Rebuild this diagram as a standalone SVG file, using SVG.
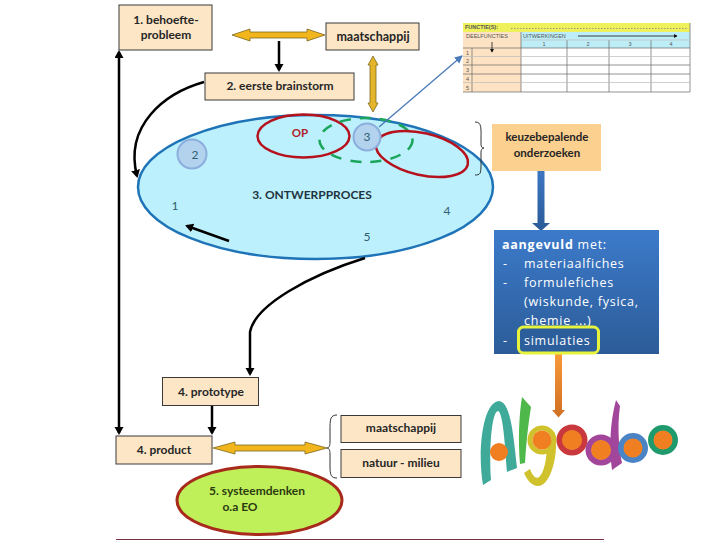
<svg xmlns="http://www.w3.org/2000/svg" width="720" height="540" viewBox="0 0 720 540">
<style>
text{font-family:"Lato","Open Sans","Liberation Sans",sans-serif;fill:#262626}
.b{font-weight:700;font-size:12px;text-anchor:middle}
.box{fill:#fde6c6;stroke:#3a3a3a;stroke-width:1}
.blk{fill:none;stroke:#000;stroke-width:2.500}
.gold{fill:#f2b51c;stroke:#7a6a20;stroke-width:.8}
.w{fill:#fff;font-family:"Open Sans","Lato",sans-serif;font-size:12.500px;letter-spacing:.75px}
.n{fill:#2f5f70;font-size:12px;text-anchor:middle}
.t{font-size:5.500px;fill:#555;font-family:"Liberation Sans",sans-serif}
.gr{stroke:#666;stroke-width:.7;fill:none}
.lt{stroke:#bbb;stroke-width:.7;fill:none}
.ring{fill:none;stroke-width:6}
.dot{fill:#f07f22}
</style>
<defs>
<marker id="ah" markerWidth="10" markerHeight="10" refX="6" refY="4.500" orient="auto" markerUnits="userSpaceOnUse"><path d="M0,0L8,4.500L0,9Z" fill="#000"/></marker>
<marker id="ahs" markerWidth="10" markerHeight="10" refX="6" refY="4.500" orient="auto-start-reverse" markerUnits="userSpaceOnUse"><path d="M0,0L8,4.500L0,9Z" fill="#000"/></marker>
<marker id="tiny" markerWidth="5" markerHeight="5" refX="3" refY="2" orient="auto" markerUnits="userSpaceOnUse"><path d="M0,0L3.500,2L0,4Z" fill="#111"/></marker>
<marker id="bl" markerWidth="10" markerHeight="10" refX="7" refY="4" orient="auto" markerUnits="userSpaceOnUse"><path d="M0,0L8,4L0,8Z" fill="#4a7ab8"/></marker>
<linearGradient id="bg" x1="0" y1="0" x2="0" y2="1"><stop offset="0" stop-color="#3c7aca"/><stop offset="1" stop-color="#2c5c98"/></linearGradient>
<linearGradient id="ar" x1="0" y1="0" x2="0" y2="1"><stop offset="0" stop-color="#3d78c4"/><stop offset="1" stop-color="#2a5a98"/></linearGradient>
<linearGradient id="or" x1="0" y1="0" x2="0" y2="1"><stop offset="0" stop-color="#f99a3a"/><stop offset="1" stop-color="#cf6f22"/></linearGradient>
</defs>
<rect width="720" height="540" fill="#fff"/>

<g id="ontwerpproces">
<ellipse cx="315.500" cy="187" rx="177.500" ry="72" fill="#bdf0fd" stroke="#1f74b8" stroke-width="2.500"/>
<text class="b" x="312" y="199" style="fill:#1f3540">3. ONTWERPPROCES</text>
<text class="n" x="175" y="210">1</text>
<text class="n" x="447" y="215">4</text>
<text class="n" x="367" y="241">5</text>
</g>
<g id="cirkel-2"><circle cx="192" cy="154" r="14.500" fill="#b2d2ee" stroke="#8caedc" stroke-width="2"/><text class="n" x="195" y="159">2</text></g>
<g id="op"><ellipse cx="303.500" cy="136" rx="46" ry="21.500" fill="none" stroke="#b5121e" stroke-width="2.500"/><text x="300" y="137" style="fill:#b0202c;font-weight:700;font-size:11.500px;text-anchor:middle">OP</text></g>
<g id="groen"><ellipse cx="366" cy="140" rx="46.500" ry="22" fill="none" stroke="#1aa55a" stroke-width="2.500" stroke-dasharray="11 9"/></g>
<g id="rood-2"><ellipse cx="422" cy="154" rx="47" ry="21" transform="rotate(13 422 154)" fill="none" stroke="#b5121e" stroke-width="2.500"/></g>
<g id="cirkel-3"><circle cx="367" cy="137" r="13.500" fill="#b2d2ee" stroke="#8caedc" stroke-width="2"/><text class="n" x="367" y="141">3</text></g>

<g id="connectors">
<path class="blk" d="M119,52V433" marker-start="url(#ahs)" marker-end="url(#ah)"/>
<path class="blk" d="M279,41V70" marker-end="url(#ah)"/>
<path class="blk" d="M204,82C165,93 124,125 137,176" marker-end="url(#ah)"/>
<path class="blk" d="M229,241L187,226" marker-end="url(#ah)" stroke-width="2.800"/>
<path class="blk" d="M365,258C310,275 255,305 250,332V374" marker-end="url(#ah)"/>
<path class="blk" d="M212,406V433" marker-end="url(#ah)"/>
<path class="gold" d="M232,35L250,29V32H307V29L325,35L307,41V38H250V41Z"/>
<path class="gold" d="M373,56L378,65H376V103H378L373,112L368,103H370V65H368Z" style="fill:#e4b42a"/>
<path class="gold" d="M213,448L235,442V445H305V442L327,448L305,454V451H235V454Z"/>
<path d="M379,127L462,56" fill="none" stroke="#4a7ab8" stroke-width="1.300" marker-end="url(#bl)"/>
<path d="M537.500,167H544.500V223H550L541,231L532,223H537.500Z" fill="url(#ar)"/>
<path d="M555,353H562V410H565L558.500,417.500L552,410H555Z" fill="url(#or)"/>
<path d="M475,122C482,122 481,128 481,140V144C481,147 482,148 484,148C482,148 481,150 481,152V165C481,174 480,175 475,175" fill="none" stroke="#333" stroke-width="1"/>
<path d="M337,415C330,415 330,420 330,430V442C330,446 329,448 327,448C329,448 330,450 330,454V466C330,475 331,478 337,478" fill="none" stroke="#333" stroke-width="1"/>
</g>

<g id="behoefte"><rect class="box" x="119" y="5" width="93" height="45"/><text class="b" x="166" y="24">1. behoefte-</text><text class="b" x="166" y="39">probleem</text></g>
<g id="maatschappij-1"><rect class="box" x="326" y="23" width="93" height="27"/><text class="b" x="373" y="41" style="font-size:12.500px">maatschappij</text></g>
<g id="brainstorm"><rect class="box" x="205" y="73" width="149" height="27"/><text class="b" x="280" y="90">2. eerste brainstorm</text></g>
<g id="prototype"><rect class="box" x="162.500" y="377.500" width="96" height="28"/><text class="b" x="211" y="396">4. prototype</text></g>
<g id="product"><rect class="box" x="116" y="436" width="96" height="28"/><text class="b" x="164" y="454">4. product</text></g>
<g id="maatschappij-2"><rect class="box" x="341" y="415.500" width="120" height="27"/><text class="b" x="401" y="432">maatschappij</text></g>
<g id="natuur"><rect class="box" x="341" y="449.500" width="120" height="28"/><text class="b" x="401" y="467">natuur - milieu</text></g>
<g id="systeemdenken"><ellipse cx="259.500" cy="500.500" rx="82.500" ry="34" fill="#bff05a" stroke="#a82a1c" stroke-width="3"/><text class="b" x="257" y="495" style="fill:#2c3a10">5. systeemdenken</text><text class="b" x="240" y="511" style="fill:#2c3a10">o.a EO</text></g>

<g id="keuze"><rect x="492" y="124" width="109" height="47" fill="#fcd08e"/><text class="b" x="547" y="141" style="font-size:11.500px">keuzebepalende</text><text class="b" x="547" y="157" style="font-size:11.500px">onderzoeken</text></g>

<g id="aangevuld">
<rect x="494" y="230" width="165" height="124" fill="url(#bg)"/>
<text class="w" x="502" y="249"><tspan font-weight="700">aangevuld</tspan> met:</text>
<text class="w" x="503" y="268">-</text><text class="w" x="524" y="268">materiaalfiches</text>
<text class="w" x="503" y="287">-</text><text class="w" x="524" y="287">formulefiches</text>
<text class="w" x="524" y="306">(wiskunde, fysica,</text>
<text class="w" x="524" y="325">chemie ...)</text>
<rect x="518.500" y="327" width="80" height="26" rx="5" fill="#2d5e9c" stroke="#e6f23e" stroke-width="3"/>
<text class="w" x="503" y="345">-</text><text class="w" x="524" y="345">simulaties</text>
</g>

<g id="functietabel">
<rect x="463" y="23" width="227" height="9" fill="#eef05c"/>
<rect x="463" y="32" width="58" height="60" fill="#fde3c4"/>
<rect x="521" y="32" width="169" height="16" fill="#bdeef8"/>
<path class="gr" d="M463,48H690M463,65H690M463,74H690M463,92H690M521,32V92M567,40V92M609,40V92M651,40V92M690,23V92M472,48V92"/>
<path class="lt" d="M463,56.500H690M463,82.500H690M521,40H690"/>
<path d="M511,28.500H688" stroke="#777" stroke-width=".7" stroke-dasharray="1.500 1.500"/>
<text class="t" x="465" y="29" font-weight="700">FUNCTIE(S):</text>
<text class="t" x="466" y="38">DEELFUNCTIES</text>
<text class="t" x="523" y="38">UITWERKINGEN</text>
<path d="M578,36H677" stroke="#111" stroke-width=".8" marker-end="url(#tiny)"/>
<path d="M492,42V52" stroke="#111" stroke-width=".8" marker-end="url(#tiny)"/>
<text class="t" x="544" y="46" text-anchor="middle">1</text><text class="t" x="588" y="46" text-anchor="middle">2</text><text class="t" x="630" y="46" text-anchor="middle">3</text><text class="t" x="671" y="46" text-anchor="middle">4</text>
<text class="t" x="466" y="54.500">1</text><text class="t" x="466" y="63">2</text><text class="t" x="466" y="71.500">3</text><text class="t" x="466" y="80.500">4</text><text class="t" x="466" y="89.500">5</text>
</g>

<g id="algodoo">
<path d="M483,485C477,450 483,402 499,401C510,402 513,430 517,468L507,472C505,445 503,412 498,411C491,412 489,455 491,480Z" fill="#3fa99a"/>
<circle class="dot" cx="499" cy="452" r="9"/>
<path d="M522,397L531,407C528,425 526,445 525,463L520,464C518,440 519,415 522,397Z" fill="#4fb84a"/>
<circle cx="542" cy="440" r="12" fill="none" stroke="#d0c22c" stroke-width="5"/>
<path d="M556,440C557,462 549,486 538,486C532,486 527,480 524,473L530,469C533,477 537,480 540,476C546,469 547,452 547,440Z" fill="#d0c22c"/>
<circle class="dot" cx="542" cy="440" r="9.500"/>
<circle class="ring" cx="572" cy="440" r="12.500" stroke="#c8383c"/>
<circle class="dot" cx="572" cy="440" r="10"/>
<circle class="ring" cx="601" cy="450" r="12.500" stroke="#a2469c"/>
<path d="M616,400L620,406C617,428 619,448 622,463L612,470C609,448 610,422 616,400Z" fill="#a2469c"/>
<circle class="dot" cx="601" cy="450" r="10"/>
<circle class="ring" cx="633" cy="448" r="12" stroke="#4a84c4"/>
<circle class="dot" cx="633" cy="448" r="9.500"/>
<circle class="ring" cx="663" cy="440" r="12" stroke="#1f9a6c"/>
<circle class="dot" cx="663" cy="440" r="9.500"/>
</g>

<path id="onderlijn" d="M116,539.500H604" stroke="#7a3040" stroke-width="1.200"/>
</svg>
